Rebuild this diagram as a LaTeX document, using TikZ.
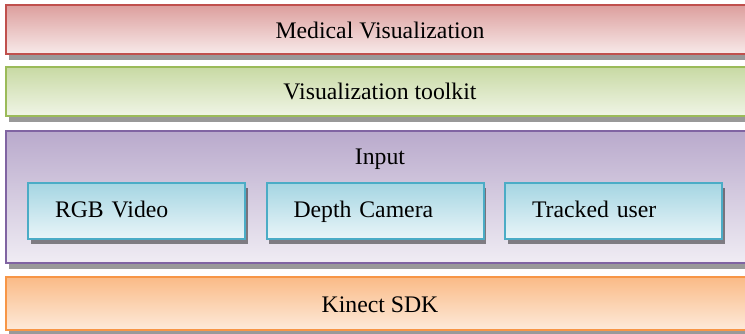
\documentclass[tikz,border=0pt]{standalone}
\usepackage{fontspec}
\setmainfont{Liberation Serif}
\usetikzlibrary{positioning, shadows}
\definecolor{vizred}{RGB}{192, 80, 77}
\definecolor{vizgreen}{RGB}{155, 187, 89}
\definecolor{vizpurple}{RGB}{128, 100, 162}
\definecolor{vizcyan}{RGB}{75, 172, 198}
\definecolor{vizorange}{RGB}{247, 150, 70}

\begin{document}
\begin{tikzpicture}[
  x=0.75pt, y=-0.75pt,
  layer/.style={rectangle, line width=1.5pt, minimum width=570pt, minimum height=36.75pt,
                font=\fontsize{17.8}{20}\selectfont, inner sep=0pt,
                drop shadow={shadow xshift=2pt, shadow yshift=-4.5pt, opacity=0.4, fill=black}},
  lbl/.style={font=\fontsize{17.8}{20}\selectfont, text height=12.5pt, text depth=3.5pt},
  source/.style={rectangle, line width=1.5pt, draw=vizcyan, top color=vizcyan!50, bottom color=vizcyan!12,
                 minimum width=162.75pt, minimum height=42pt, text width=122.25pt, align=left,
                 inner xsep=20.25pt, font=\fontsize{17.8}{20}\selectfont,
                 text height=12.5pt, text depth=3.5pt,
                 drop shadow={shadow xshift=2pt, shadow yshift=-4pt, opacity=0.45, fill=black}}
]
\clip (0,0) rectangle (745,333);
\useasboundingbox (0,0) rectangle (745,333);

% layers, top to bottom
\node[layer, draw=vizred, top color=vizred!55, bottom color=vizred!12] (medviz) at (386,29.5) {};
\node[layer, draw=vizgreen, top color=vizgreen!55, bottom color=vizgreen!15] (vtk) at (386,91.5) {};
\node[layer, draw=vizpurple, top color=vizpurple!55, bottom color=vizpurple!12,
      minimum height=99pt] (input) at (386,197) {};
\node[layer, draw=vizorange, top color=vizorange!65, bottom color=vizorange!20,
      minimum height=39.75pt] (kinect) at (386,303.5) {};

\node[lbl] (medvizlbl) at (380,32) {Medical Visualization};
\node[lbl] (vtklbl) at (380,93) {Visualization toolkit};
\node[lbl] (inputlbl) at (380,158) {Input};
\node[lbl] (kinectlbl) at (380,306) {Kinect SDK};

% input sources
\node[source] (rgb) at (136.5,211) {RGB Video};
\node[source] (depth) at (375,211) {Depth Camera};
\node[source] (user) at (613.5,211) {Tracked user};
\end{tikzpicture}
\end{document}
